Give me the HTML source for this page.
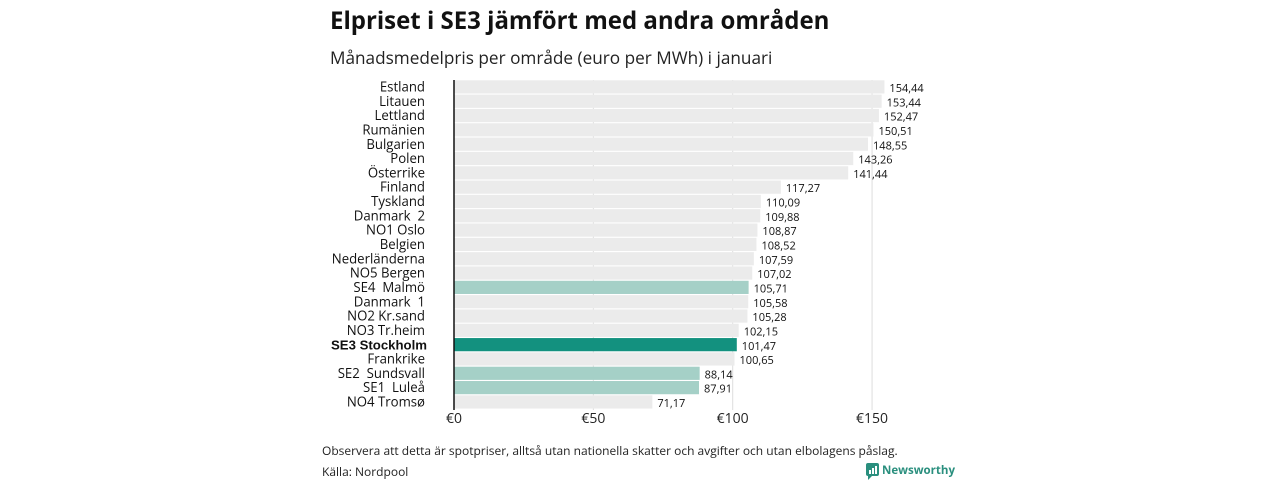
<!DOCTYPE html>
<html><head><meta charset="utf-8"><style>
body{margin:0;width:1280px;height:480px;background:#fff;overflow:hidden;font-family:"Open Sans","DejaVu Sans","Liberation Sans",sans-serif;}
svg{position:absolute;left:0;top:0}
text{white-space:pre}
</style></head><body>
<svg width="1280" height="480">
<text x="330" y="29" font-size="24" font-weight="bold" fill="#111">Elpriset i SE3 jämfört med andra områden</text>
<text x="330" y="64" font-size="17.2" fill="#222">Månadsmedelpris per område (euro per MWh) i januari</text>
<g id="grid"></g><g id="bars"></g>
<line x1="454" y1="80" x2="454" y2="410" stroke="#111" stroke-width="1.5"/>
<g id="xt"></g>
<text x="322" y="455" font-size="12" fill="#222">Observera att detta är spotpriser, alltså utan nationella skatter och avgifter och utan elbolagens påslag.</text>
<text x="322" y="476" font-size="12" fill="#222">Källa: Nordpool</text>
<g>
<rect x="866" y="463" width="13" height="13" rx="2" fill="#2a8f7e"/>
<path d="M868 476 l0 4 l4 -4z" fill="#2a8f7e"/>
<rect x="869" y="470" width="2" height="4" fill="#fff"/><rect x="872" y="468" width="2" height="6" fill="#fff"/><rect x="875" y="466" width="2" height="8" fill="#fff"/>
<text x="882" y="474" font-size="11.5" font-weight="bold" fill="#2a8f7e">Newsworthy</text>
</g>
</svg>
<script>
const categories=["Estland","Litauen","Lettland","Rumänien","Bulgarien","Polen","Österrike","Finland","Tyskland","Danmark  2","NO1 Oslo","Belgien","Nederländerna","NO5 Bergen","SE4  Malmö","Danmark  1","NO2 Kr.sand","NO3 Tr.heim","SE3 Stockholm","Frankrike","SE2  Sundsvall","SE1  Luleå","NO4 Tromsø"];
const values=[154.44,153.44,152.47,150.51,148.55,143.26,141.44,117.27,110.09,109.88,108.87,108.52,107.59,107.02,105.71,105.58,105.28,102.15,101.47,100.65,88.14,87.91,71.17];
const highlight=["none","none","none","none","none","none","none","none","none","none","none","none","none","none","light","none","none","none","main","none","light","light","none"];
const ticks=[0,50,100,150];
const tickLabels=["€0","€50","€100","€150"];
const NS="http://www.w3.org/2000/svg";
const x=v=>454+v*2.787;
const y=i=>87+i*14.32;
function mk(t,a,p){const e=document.createElementNS(NS,t);for(const k in a)e.setAttribute(k,a[k]);p.appendChild(e);return e;}
const grid=document.getElementById('grid'),bars=document.getElementById('bars'),xt=document.getElementById('xt');
ticks.forEach((t,i)=>{
 if(t>0){const l=mk('line',{x1:x(t),x2:x(t),y1:80,y2:410,stroke:'#ddd','stroke-width':1},grid);
 
 }
 const tx=mk('text',{x:x(t),y:423,'font-size':14,'text-anchor':'middle',fill:'#222'},xt);tx.textContent=tickLabels[i];
 
 
});
categories.forEach((c,i)=>{
 const cy=y(i);
 const col=highlight[i]=='main'?'#13917f':highlight[i]=='light'?'#a5d0c7':'#ebebeb';
 const r=mk('rect',{x:454,y:cy-6.7,width:x(values[i])-454,height:13.2,fill:col},bars);
 
 
 const lb=mk('text',{x:425,y:cy+4.5,'font-size':13.2,'text-anchor':'end',fill:'#111'},bars);
 if(highlight[i]=='main'){lb.setAttribute('font-weight','bold');lb.setAttribute('font-family','Liberation Sans, sans-serif');lb.setAttribute('x',427);}
 lb.textContent=c;
 
 
 const vl=mk('text',{x:x(values[i])+5,y:cy+5,'font-size':11,fill:'#111'},bars);
 vl.textContent=values[i].toFixed(2).replace('.',',');
 
 
});
</script>
</body></html>
